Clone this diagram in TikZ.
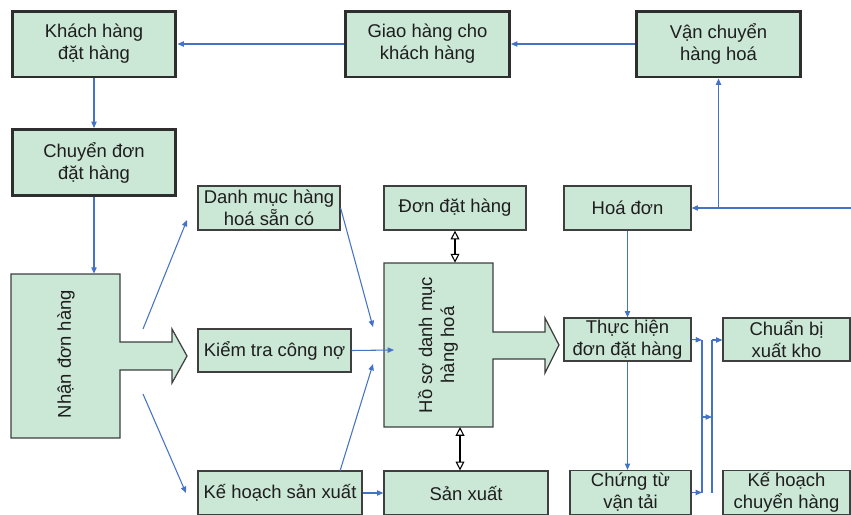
\documentclass[tikz,border=0pt]{standalone}
\usepackage{fontspec}
\setmainfont{Liberation Sans}
\usetikzlibrary{arrows.meta,calc}
\definecolor{boxgreen}{HTML}{CBE7D5}
\definecolor{edgedark}{HTML}{2E2E2E}
\definecolor{edgegray}{HTML}{3F3F3F}
\definecolor{flowblue}{HTML}{4472C4}
\definecolor{inkgray}{HTML}{1E1E1E}

\begin{document}
\begin{tikzpicture}[x=0.02cm,y=-0.02cm,
  font=\fontsize{10.5}{12.5}\selectfont, text=inkgray,
  thickbox/.style={draw=edgedark, fill=boxgreen, line width=1.7pt, minimum width=3.28cm, minimum height=1.32cm, align=center, inner sep=0pt},
  thinbox/.style={draw=edgegray, fill=boxgreen, line width=0.7pt, align=center, inner sep=0pt},
  bodybox/.style={minimum width=2.18cm, minimum height=3.28cm, inner sep=0pt},
  bigarrow/.style={draw=edgegray, fill=boxgreen, line width=0.7pt},
  flow/.style={draw=flowblue, line width=0.6pt, -{Triangle[length=3.6pt,width=3pt]}},
  bus/.style={draw=flowblue, line width=0.6pt},
  link/.style={draw=black, line width=0.6pt, {Triangle[open,length=5pt,width=5pt]}-{Triangle[open,length=5pt,width=5pt]}}]
\useasboundingbox (0,0) rectangle (851,514);
\clip (0,0) rectangle (851,514);

\node[thickbox] (khach) at (94,44) {Khách hàng\\đặt hàng};
\node[thickbox] (giao) at (427.5,44) {Giao hàng cho\\khách hàng};
\node[thickbox] (van) at (718.5,44) {Vận chuyển\\hàng hoá};
\node[thickbox] (chuyen) at (94,162.5) {Chuyển đơn\\đặt hàng};

\node[thinbox, minimum width=2.84cm, minimum height=0.88cm] (danhmuc) at (269,208) {Danh mục hàng\\hoá sẵn có};
\node[thinbox, minimum width=2.84cm, minimum height=0.88cm] (don) at (455,208) {Đơn đặt hàng};
\node[thinbox, minimum width=2.54cm, minimum height=0.88cm] (hoadon) at (627.5,208) {Hoá đơn};
\node[thinbox, minimum width=3.06cm, minimum height=0.86cm] (kiemtra) at (274.5,350.5) {Kiểm tra công nợ};
\node[thinbox, minimum width=2.54cm, minimum height=0.86cm] (thuchien) at (627.5,339.5) {Thực hiện\\đơn đặt hàng};
\node[thinbox, minimum width=2.54cm, minimum height=0.86cm] (chuanbi) at (786.5,339.5) {Chuẩn bị\\xuất kho};
\node[thinbox, minimum width=3.28cm, minimum height=0.88cm] (khsx) at (280,493) {Kế hoạch sản xuất};
\node[thinbox, minimum width=3.28cm, minimum height=0.88cm] (sanxuat) at (466,493) {Sản xuất};
\node[thinbox, minimum width=2.42cm, minimum height=0.88cm] (chungtu) at (630.5,492.5) {Chứng từ\\vận tải};
\node[thinbox, minimum width=2.54cm, minimum height=0.88cm] (khch) at (786.5,492.5) {Kế hoạch\\chuyển hàng};

\draw[bigarrow] (11,274) -- (120,274) -- (120,342) -- (172,342) -- (172,329) -- (187,356) -- (172,383) -- (172,370) -- (120,370) -- (120,438) -- (11,438) -- cycle;
\node[bodybox] (nhan) at (65.5,356) {};
\node[rotate=90] (nhanlbl) at (66,354) {Nhận đơn hàng};

\draw[bigarrow] (384,263) -- (493,263) -- (493,332) -- (545,332) -- (545,318) -- (559,345) -- (545,373) -- (545,359) -- (493,359) -- (493,427) -- (384,427) -- cycle;
\node[bodybox] (hoso) at (438.5,345) {};
\node[rotate=90, align=center] (hosolbl) at (438,345) {Hồ sơ danh mục\\hàng hoá};

\coordinate (nup) at (143,329);
\coordinate (nupend) at (187,220);
\coordinate (ndown) at (143,394);
\coordinate (ndownend) at (186,493);
\coordinate (hsa) at (373,327);
\coordinate (hsb) at (394,350);
\coordinate (hsc) at (373,364);
\coordinate (kup) at (340,471);
\coordinate (hsbot) at (460,427);
\coordinate (inR) at (851,208);
\coordinate (busA) at (702,340);
\coordinate (busB) at (712,340);
\coordinate (busmid) at (702,417);

\draw[flow] (giao) -- (khach);
\draw[flow] (van) -- (giao);
\draw[flow] (khach) -- (chuyen);
\draw[flow] (chuyen.south) -- (chuyen.south |- nhan.north);
\draw[flow] (nup) -- (nupend);
\draw[flow] (ndown) -- (ndownend);
\draw[flow] (danhmuc.east) -- (hsa);
\draw[flow] (kiemtra.east) -- (hsb);
\draw[flow] (kup) -- (hsc);
\draw[flow] (khsx) -- (sanxuat);
\draw[link] (don.south) -- (don.south |- hoso.north);
\draw[link] (hsbot) -- (hsbot |- sanxuat.north);
\draw[flow] (inR) -- (hoadon.east);
\draw[flow] (van.south |- hoadon.east) -- (van.south);
\draw[flow] (hoadon) -- (thuchien);
\draw[flow] (thuchien.south) -- (thuchien.south |- chungtu.north);
\draw[flow] (thuchien.east) -- (busA);
\draw[flow] (chungtu.east) -- (busA |- chungtu.east);
\draw[bus] (busA) -- (busA |- chungtu.east);
\draw[flow] (busmid) -- (busmid -| busB);
\draw[bus] (busB) -- (busB |- chungtu.east);
\draw[flow] (busB) -- (busB -| chuanbi.west);
\end{tikzpicture}
\end{document}
